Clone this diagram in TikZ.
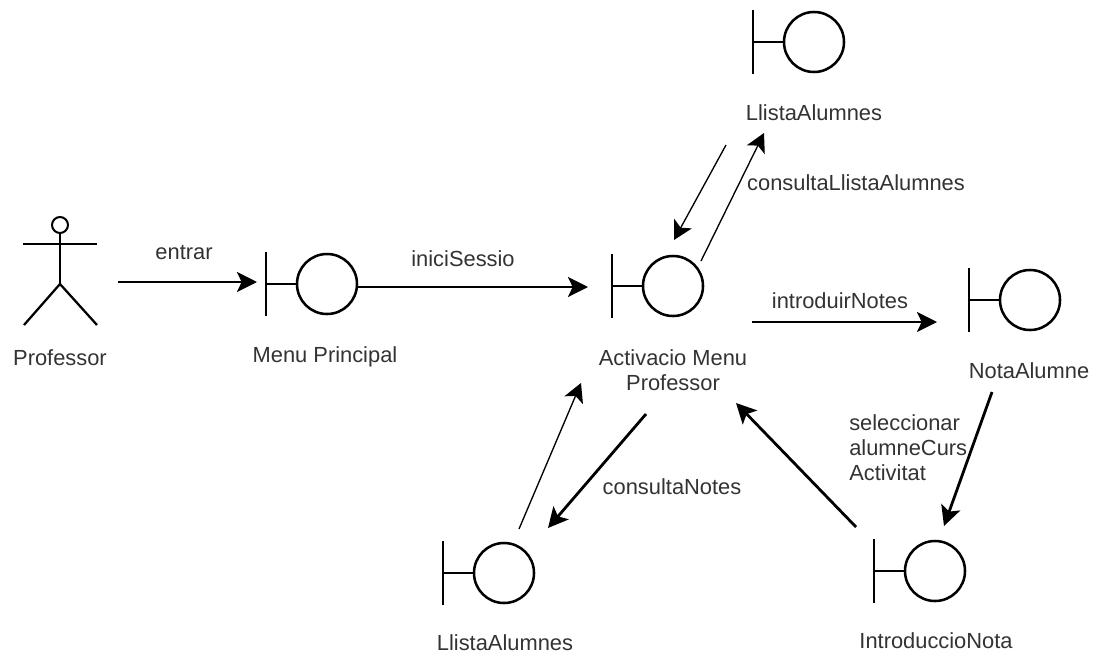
\documentclass[tikz,border=0pt]{standalone}
\usepackage{fontspec}
\setmainfont{Liberation Sans}
\usetikzlibrary{arrows.meta}
\tikzset{
  x=0.75pt,y=-0.75pt,
  shape outline/.style={line width=1.9pt,draw=black},
  ball/.style={circle,shape outline,fill=none,minimum size=45pt,inner sep=0pt,outer sep=0pt},
  lbl/.style={font=\fontsize{16.4pt}{18.75pt}\selectfont,text=black!80,inner sep=0pt,align=center},
  heavy/.style={line width=2.1pt,-{Stealth[length=15pt,width=15pt,inset=3.5pt]}},
  light/.style={line width=1pt,-{Stealth[length=14pt,width=15pt,inset=3.5pt]}},
}
\newcommand{\boundary}[3]{% name, circle centre x, y
  \node[ball] (#1) at (#2,#3) {};
  \coordinate (#1bar) at ([xshift=-23.25pt]#1.west);
  \draw[shape outline] (#1bar) ++(0,-32) -- ++(0,64);
  \draw[shape outline] (#1bar) -- (#1.west);
}
\begin{document}
\begin{tikzpicture}
\useasboundingbox[fill=white] (0,0) rectangle (1094,657);
% actor
\node[circle,line width=1.5pt,draw=black,minimum size=12pt,inner sep=0pt,outer sep=0pt] (head) at (60,225) {};
\coordinate (neck) at (60,244);
\coordinate (armL) at (23,244);
\coordinate (armR) at (97,244);
\coordinate (hip) at (60,284);
\coordinate (legL) at (24,325);
\coordinate (legR) at (97,325);
\draw[line width=1.7pt] (head.south) -- (hip);
\draw[line width=1.7pt] (armL) -- (armR);
\draw[line width=1.7pt] (legL) -- (hip) -- (legR);
% boundary objects
\boundary{menu}{327}{284}
\boundary{top}{814}{42}
\boundary{act}{673}{286}
\boundary{nota}{1030}{300}
\boundary{intro}{935}{571}
\boundary{bot}{504}{573}
% labels
\node[lbl] (lprof) at (60,358) {Professor};
\node[lbl] (lentrar) at (184,253) {entrar};
\node[lbl] (lmenu) at (325,357) {Menu Principal};
\node[lbl] (lini) at (463,259) {iniciSessio};
\node[lbl] (ltop) at (814,113) {LlistaAlumnes};
\node[lbl] (lcons) at (856,183) {consultaLlistaAlumnes};
\node[lbl] (lact) at (673,370) {Activacio Menu\\Professor};
\node[lbl] (lintro) at (840,301) {introduirNotes};
\node[lbl] (lnota) at (1029,371) {NotaAlumne};
\node[lbl,anchor=west,align=left] (lsel) at (849,448) {seleccionar\\alumneCurs\\Activitat};
\node[lbl] (lcn) at (672,487) {consultaNotes};
\node[lbl] (lbot) at (505,643) {LlistaAlumnes};
\node[lbl] (lin) at (936,641) {IntroduccioNota};
% connector ends
\coordinate (a1) at (118,282);
\coordinate (a2) at (257,282);
\coordinate (b1) at (357,287);
\coordinate (b2) at (588,287);
\coordinate (c1) at (726,145);
\coordinate (c2) at (674,240);
\coordinate (d1) at (701,261);
\coordinate (d2) at (764,133);
\coordinate (e1) at (752,322);
\coordinate (e2) at (937,322);
\coordinate (f1) at (992,392);
\coordinate (f2) at (944,526);
\coordinate (g1) at (856,527);
\coordinate (g2) at (736,403);
\coordinate (h1) at (646,414);
\coordinate (h2) at (548,528);
\coordinate (i1) at (519,529);
\coordinate (i2) at (581,383);
\draw[heavy] (a1) -- (a2);
\draw[heavy] (b1) -- (b2);
\draw[light] (c1) -- (c2);
\draw[light] (d1) -- (d2);
\draw[heavy] (e1) -- (e2);
\draw[heavy] (f1) -- (f2);
\draw[heavy] (g1) -- (g2);
\draw[heavy] (h1) -- (h2);
\draw[light] (i1) -- (i2);
\end{tikzpicture}
\end{document}
